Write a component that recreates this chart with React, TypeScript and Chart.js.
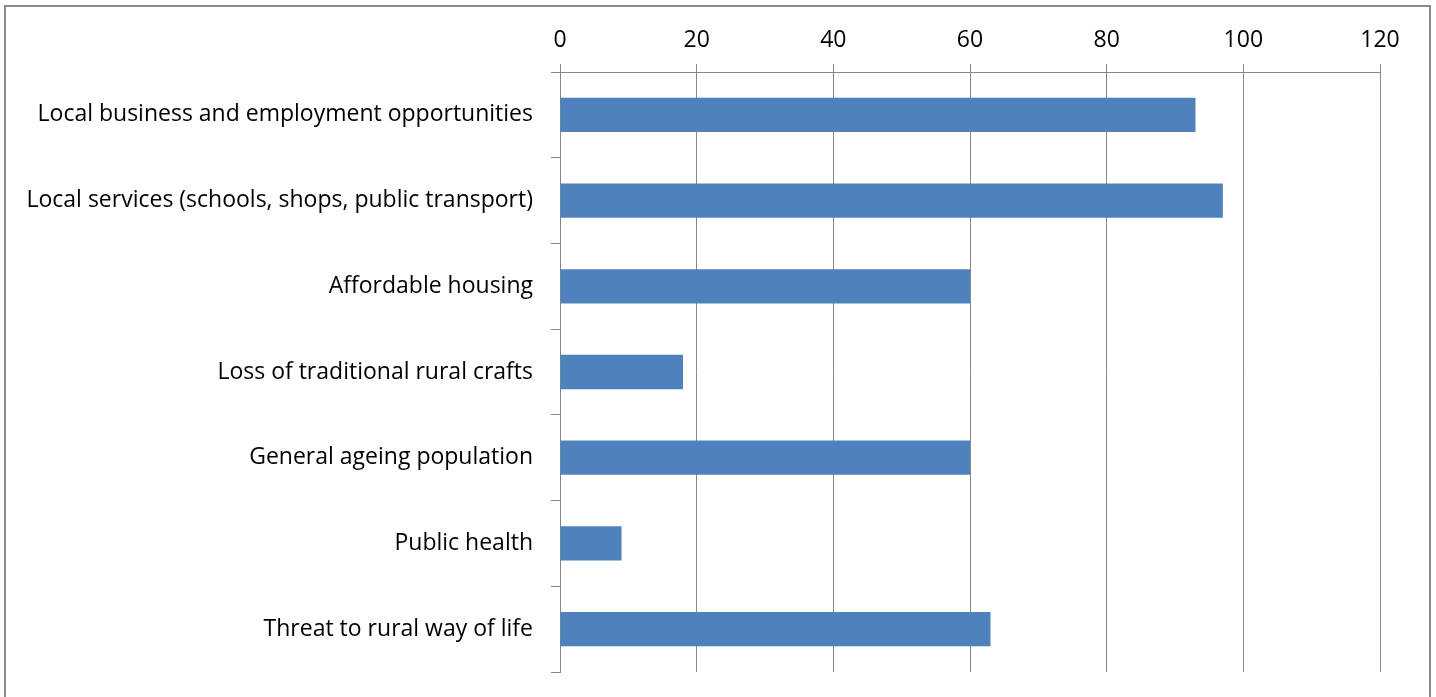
import React, { useEffect, useRef } from "react";
import { Chart, registerables } from "chart.js";

Chart.register(...registerables);

const categories: string[] = [
  "Local business and employment opportunities",
  "Local services (schools, shops, public transport)",
  "Affordable housing",
  "Loss of traditional rural crafts",
  "General ageing population",
  "Public health",
  "Threat to rural way of life",
];
const values: number[] = [93, 97, 60, 18, 60, 9, 63];
const xMin = 0;
const xMax = 120;
const xStep = 20;

const W = 1436;
const H = 697;
const FONT = "'Open Sans', sans-serif";
const GRID = "#868686";

export default function App() {
  const ref = useRef<HTMLCanvasElement | null>(null);
  useEffect(() => {
    document.body.style.margin = "0";
    const canvas = ref.current!;
    const chart = new Chart(canvas, {
      type: "bar",
      data: {
        labels: categories,
        datasets: [
          {
            data: values,
            backgroundColor: "#4F81BD",
            borderWidth: 0,
            categoryPercentage: 1,
            barPercentage: 0.4,
          },
        ],
      },
      options: {
        indexAxis: "y",
        animation: false,
        responsive: false,
        devicePixelRatio: 1,
        layout: { padding: { left: 0, top: 0, right: 56, bottom: 25 } },
        plugins: { legend: { display: false }, tooltip: { enabled: false } },
        scales: {
          x: {
            position: "top",
            min: xMin,
            max: xMax,
            ticks: {
              stepSize: xStep,
              color: "#000",
              font: { family: FONT, size: 23 },
              padding: 10,
            },
            grid: { color: GRID, lineWidth: 1, tickLength: 8, drawTicks: true },
            border: { color: GRID, width: 1 },
            afterFit: (s: any) => {
              s.height = 72;
              s.paddingLeft = 0;
              s.paddingRight = 0;
            },
          },
          y: {
            ticks: {
              color: "#000",
              font: { family: FONT, size: 23 },
              padding: 18,
            },
            grid: {
              color: GRID,
              drawOnChartArea: false,
              drawTicks: true,
              tickLength: 9,
              offset: true,
            },
            border: { color: GRID, width: 1 },
            afterFit: (s: any) => {
              s.width = 560;
              s.paddingTop = 0;
              s.paddingBottom = 0;
            },
          },
        },
      },
    });
    return () => chart.destroy();
  }, []);
  return (
    <div style={{ position: "absolute", left: 0, top: 0, width: W, height: H, overflow: "hidden", background: "#fff" }}>
      <canvas ref={ref} width={W} height={H} style={{ position: "absolute", left: 0, top: 0, width: W, height: H }} />
      <div
        style={{
          position: "absolute",
          left: 4,
          top: 5,
          width: 1427,
          height: 800,
          border: "2px solid #8a8a8a",
          boxSizing: "border-box",
          pointerEvents: "none",
        }}
      />
    </div>
  );
}
